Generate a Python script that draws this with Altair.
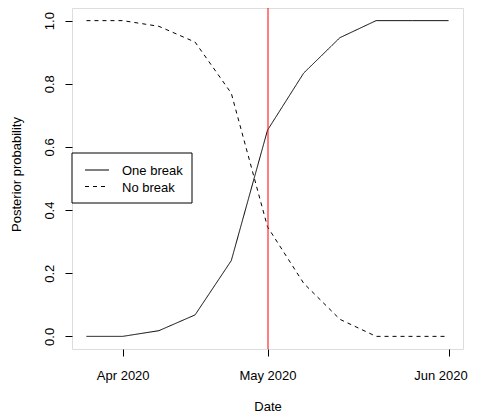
import altair as alt
import pandas as pd

# Data
idx = [1, 2, 3, 4, 5, 6, 7, 8, 9, 10, 11]
one_break = [0.0, 0.0, 0.018, 0.068, 0.24, 0.653, 0.834, 0.946, 1.0, 1.0, 1.0]
no_break = [1.0, 1.0, 0.982, 0.932, 0.77, 0.347, 0.168, 0.054, 0.0, 0.0, 0.0]
series_names = ["One break", "No break"]
tick_pos = [2, 6, 11]
tick_labels = ["Apr 2020", "May 2020", "Jun 2020"]
break_pos = [6]
y_ticks = [0.0, 0.2, 0.4, 0.6, 0.8, 1.0]

df = pd.DataFrame({
    "x": idx * 2,
    "value": one_break + no_break,
    "series": [series_names[0]] * len(idx) + [series_names[1]] * len(idx),
})
brk = pd.DataFrame({"x": break_pos})

label_expr = " : ".join(
    f"datum.value == {p} ? '{l}'" for p, l in zip(tick_pos[:-1], tick_labels[:-1])
) + f" : '{tick_labels[-1]}'"

FONT = "Liberation Sans"
FS = 13
W, H = 391, 341

xscale = alt.Scale(domain=[0.6, 11.4], nice=False, zero=False)
yscale = alt.Scale(domain=[-0.04, 1.04], nice=False, zero=False)

xaxis = alt.Axis(values=tick_pos, labelExpr=label_expr, title="Date", grid=False,
                 domain=False, tickSize=7, tickColor="black", labelColor="black",
                 labelPadding=23, labelBaseline="alphabetic", labelFont=FONT,
                 labelFontSize=FS, titleFont=FONT, titleFontSize=FS,
                 titleFontWeight="normal", titleColor="black", titleY=61,
                 titleBaseline="alphabetic", labelFlush=False,
                 labelOffset={"condition": {"test": f"datum.value == {tick_pos[-1]}",
                                            "value": -8}, "value": 0})
yaxis = alt.Axis(values=y_ticks, format=".1f", title="Posterior probability",
                 grid=False, domain=False, tickSize=7, tickColor="black",
                 labelColor="black", labelAngle=270, labelAlign="center",
                 labelBaseline="alphabetic", labelPadding=12, labelFont=FONT,
                 labelFontSize=FS, titleFont=FONT, titleFontSize=FS,
                 titleFontWeight="normal", titleColor="black", titleAngle=270,
                 titleX=-52, titleY=166, titleAlign="center",
                 titleBaseline="alphabetic", labelFlush=False)

vline = alt.Chart(brk).mark_rule(color="red", stroke="red", strokeWidth=1,
                                 xOffset=0.5).encode(
    x=alt.X("x:Q", scale=xscale, axis=xaxis),
)

lines = alt.Chart(df).mark_line(color="black", strokeWidth=1).encode(
    x=alt.X("x:Q", scale=xscale, axis=xaxis),
    y=alt.Y("value:Q", scale=yscale, axis=yaxis),
    strokeDash=alt.StrokeDash("series:N", scale=alt.Scale(domain=series_names,
                              range=[[1, 0], [4, 4]]), legend=None),
    detail="series:N",
)

one = pd.DataFrame({"a": [0]})
# manual legend box (R style)
leg_box = alt.Chart(one).mark_rect(
    fill="white", stroke="black", strokeWidth=1
).encode(x=alt.value(0), x2=alt.value(120), y=alt.value(145), y2=alt.value(195))

leg_l1 = alt.Chart(one).mark_rule(color="black", strokeWidth=1).encode(
    x=alt.value(13), x2=alt.value(37), y=alt.value(162))
leg_l2 = alt.Chart(one).mark_rule(
    color="black", strokeWidth=1, strokeDash=[4, 4]).encode(
    x=alt.value(13), x2=alt.value(37), y=alt.value(178.5))
leg_t1 = alt.Chart(one).mark_text(
    align="left", baseline="alphabetic", font=FONT, fontSize=FS, color="black").encode(
    x=alt.value(50), y=alt.value(167), text=alt.value(series_names[0]))
leg_t2 = alt.Chart(one).mark_text(
    align="left", baseline="alphabetic", font=FONT, fontSize=FS, color="black").encode(
    x=alt.value(50), y=alt.value(183.5), text=alt.value(series_names[1]))

chart = alt.layer(lines, vline, leg_box, leg_l1, leg_l2, leg_t1, leg_t2).properties(
    width=W, height=H,
    autosize=alt.AutoSizeParams(type="none"),
    padding={"left": 64, "top": 0, "right": 7, "bottom": 63},
).configure_view(stroke="black", strokeWidth=1).configure(background="white")

chart.save("out.html", embed_options={"renderer": "svg", "actions": False})
